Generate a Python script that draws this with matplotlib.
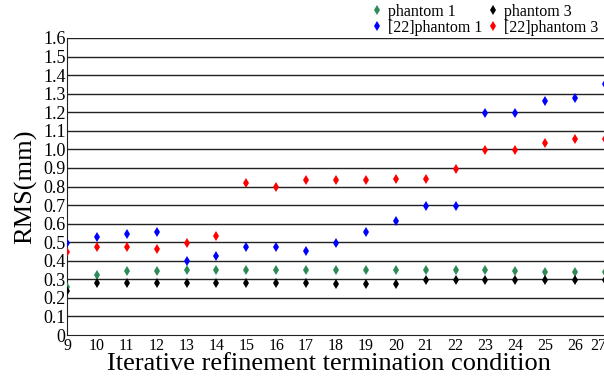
import matplotlib
matplotlib.use("Agg")
import matplotlib.pyplot as plt
from matplotlib.transforms import ScaledTranslation

conditions = list(range(9, 28))
phantom1 = [0.257, 0.325, 0.345, 0.345, 0.348, 0.352, 0.348, 0.348, 0.348, 0.348,
            0.348, 0.348, 0.348, 0.348, 0.348, 0.346, 0.339, 0.339, 0.339]
phantom3 = [0.237, 0.282, 0.282, 0.282, 0.282, 0.282, 0.282, 0.282, 0.278, 0.275,
            0.275, 0.275, 0.296, 0.296, 0.296, 0.296, 0.296, 0.296, 0.296]
ref_phantom1 = [0.494, 0.526, 0.546, 0.557, 0.397, 0.427, 0.476, 0.476, 0.454, 0.497,
                0.557, 0.616, 0.697, 0.697, 1.198, 1.198, 1.259, 1.279, 1.35]
ref_phantom3 = [0.445, 0.476, 0.476, 0.465, 0.497, 0.535, 0.819, 0.796, 0.837, 0.837,
                0.837, 0.840, 0.840, 0.896, 0.995, 0.995, 1.036, 1.058, 1.058]

yticks = [0, 0.1, 0.2, 0.3, 0.4, 0.5, 0.6, 0.7, 0.8, 0.9, 1.0, 1.1, 1.2, 1.3, 1.4, 1.5, 1.6]
ytick_labels = ["0", "0.1", "0.2", "0.3", "0.4", "0.5", "0.6", "0.7", "0.8", "0.9",
                "1.0", "1.1", "1.2", "1.3", "1.4", "1.5", "1.6"]

plt.rcParams['font.family'] = ['Liberation Serif', 'DejaVu Serif']

fig = plt.figure(figsize=(6.04, 3.76), dpi=100)
ax = fig.add_axes([67/604, 41/376, (614-67)/604, 297/376])

for y in yticks[1:]:
    ax.axhline(y, color='#222222', lw=1.0, zorder=1)

mk = dict(marker='d', markersize=5.5, markeredgewidth=0, linestyle='none', zorder=3)
h1, = ax.plot(conditions, phantom1, color='#2e8b57', label='phantom 1', **mk)
h2, = ax.plot(conditions, ref_phantom1, color='#0000ff', label='[22]phantom 1', **mk)
h3, = ax.plot(conditions, phantom3, color='#000000', label='phantom 3', **mk)
h4, = ax.plot(conditions, ref_phantom3, color='#ff0000', label='[22]phantom 3', **mk)

ax.set_xlim(9, 27.3)
ax.set_ylim(0, 1.6)
ax.set_xticks(conditions)
ax.set_xticklabels([str(c) for c in conditions], fontsize=11.5)
ax.set_yticks(yticks)
ax.set_yticklabels(ytick_labels, fontsize=13)
ax.tick_params(length=0, pad=2)
ax.tick_params(axis='y', pad=1)
last = ax.get_xticklabels()[-1]
last.set_horizontalalignment('right')
last.set_transform(last.get_transform() + ScaledTranslation(1/100, 0, fig.dpi_scale_trans))
for s in ['top', 'right']:
    ax.spines[s].set_visible(False)
ax.spines['left'].set_color('#222222')
ax.spines['bottom'].set_color('#222222')

ax.set_ylabel('RMS(mm)', fontsize=19, labelpad=4)
ax.set_xlabel('Iterative refinement termination condition', fontsize=19)
ax.xaxis.set_label_coords((329-67)/547, -0.06)

fig.legend(handles=[h1, h2, h3, h4], ncol=2, loc='upper left',
           bbox_to_anchor=(372/604, 0.99), frameon=False, fontsize=11.5,
           handlelength=0.6, handletextpad=0.4, columnspacing=0.35,
           labelspacing=0.0, borderaxespad=0, borderpad=0.0)

fig.savefig('out.png', dpi=100)
